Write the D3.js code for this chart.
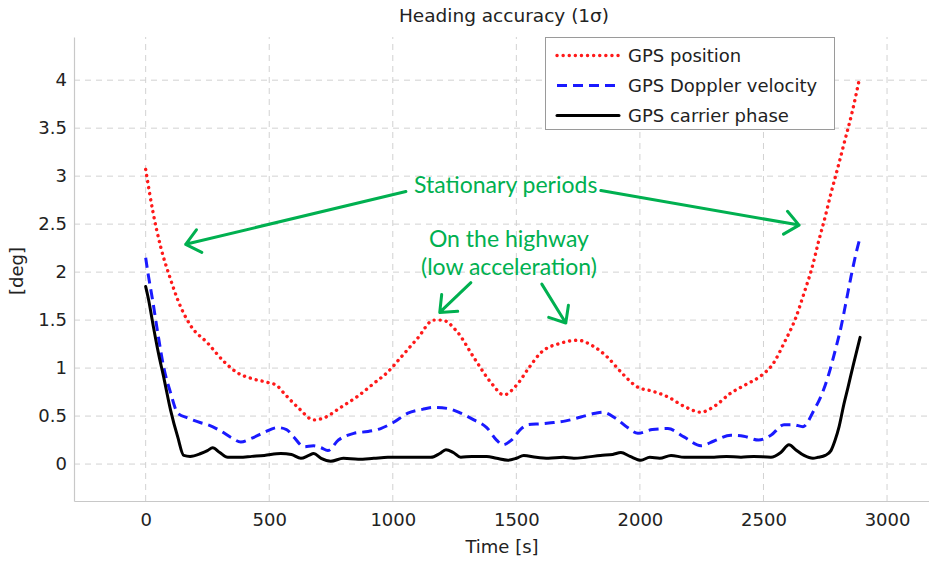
<!DOCTYPE html>
<html>
<head>
<meta charset="utf-8">
<script src="https://cdn.jsdelivr.net/npm/d3@7"></script>
<style>
  body { margin: 0; background: #fff; }
  svg { display: block; }
</style>
</head>
<body>
<svg id="svgId"></svg>
<script>
// time [s], heading sigma [deg]
var gpsPosition = [
  [0, 3.07], [30, 2.62], [61, 2.26], [100, 1.93], [130, 1.71], [180, 1.45], [251, 1.26],
  [320, 1.06], [372, 0.95], [430, 0.89], [494, 0.85], [530, 0.82], [559, 0.74], [620, 0.58],
  [680, 0.46], [720, 0.48], [789, 0.59], [860, 0.71], [923, 0.84], [980, 0.96], [1032, 1.11],
  [1100, 1.31], [1166, 1.50], [1200, 1.50], [1260, 1.38], [1328, 1.11], [1400, 0.84],
  [1449, 0.72], [1500, 0.82], [1550, 1.00], [1599, 1.16], [1680, 1.26], [1749, 1.29],
  [1810, 1.23], [1870, 1.11], [1930, 0.94], [1992, 0.80], [2050, 0.76], [2113, 0.70],
  [2180, 0.60], [2247, 0.54], [2300, 0.60], [2368, 0.74], [2430, 0.83], [2490, 0.92],
  [2540, 1.05], [2583, 1.26], [2630, 1.52], [2664, 1.78], [2700, 2.08], [2721, 2.30],
  [2750, 2.58], [2773, 2.82], [2800, 3.08], [2826, 3.34], [2860, 3.68], [2887, 4.0]
];
var gpsDoppler = [
  [0, 2.15], [10, 1.98], [28, 1.71], [50, 1.35], [73, 1.01], [100, 0.75], [130, 0.53],
  [170, 0.48], [223, 0.43], [251, 0.41], [300, 0.35], [350, 0.27], [385, 0.23], [430, 0.27],
  [480, 0.33], [534, 0.38], [570, 0.36], [600, 0.28], [640, 0.18], [680, 0.19], [710, 0.17],
  [737, 0.14], [780, 0.25], [842, 0.32], [900, 0.34], [951, 0.37], [1000, 0.43], [1061, 0.53],
  [1120, 0.57], [1166, 0.59], [1220, 0.58], [1275, 0.53], [1328, 0.46], [1380, 0.38],
  [1420, 0.25], [1445, 0.20], [1480, 0.25], [1520, 0.37], [1547, 0.41], [1600, 0.42],
  [1640, 0.43], [1700, 0.45], [1761, 0.49], [1820, 0.53], [1850, 0.54], [1900, 0.48],
  [1950, 0.38], [1992, 0.32], [2050, 0.36], [2113, 0.37], [2180, 0.28], [2247, 0.19],
  [2300, 0.24], [2368, 0.30], [2420, 0.29], [2480, 0.25], [2530, 0.30], [2583, 0.41],
  [2620, 0.41], [2660, 0.39], [2704, 0.56], [2735, 0.72], [2761, 0.91], [2790, 1.18],
  [2814, 1.43], [2835, 1.70], [2854, 1.95], [2875, 2.20], [2891, 2.36]
];
var gpsCarrier = [
  [0, 1.85], [12, 1.71], [30, 1.45], [49, 1.19], [75, 0.88], [101, 0.56], [130, 0.28],
  [154, 0.09], [180, 0.08], [223, 0.11], [250, 0.14], [271, 0.17], [300, 0.12], [332, 0.07],
  [380, 0.07], [430, 0.08], [480, 0.09], [547, 0.11], [590, 0.10], [628, 0.06], [660, 0.09],
  [680, 0.11], [710, 0.06], [749, 0.03], [800, 0.06], [860, 0.05], [923, 0.06], [980, 0.07],
  [1050, 0.07], [1100, 0.07], [1154, 0.07], [1190, 0.11], [1215, 0.15], [1245, 0.12],
  [1275, 0.07], [1320, 0.08], [1380, 0.08], [1420, 0.06], [1466, 0.04], [1500, 0.06],
  [1530, 0.09], [1580, 0.07], [1630, 0.06], [1690, 0.07], [1733, 0.06], [1780, 0.07],
  [1840, 0.09], [1890, 0.10], [1923, 0.12], [1960, 0.08], [2004, 0.04], [2040, 0.07],
  [2080, 0.06], [2126, 0.09], [2180, 0.07], [2240, 0.07], [2300, 0.07], [2350, 0.08],
  [2409, 0.07], [2460, 0.08], [2530, 0.07], [2570, 0.12], [2603, 0.20], [2630, 0.15],
  [2664, 0.09], [2700, 0.06], [2721, 0.07], [2750, 0.09], [2773, 0.14], [2790, 0.25],
  [2806, 0.39], [2825, 0.62], [2842, 0.80], [2865, 1.05], [2891, 1.32]
];

var xTicks = [0, 500, 1000, 1500, 2000, 2500, 3000];
var yTicks = [0, 0.5, 1, 1.5, 2, 2.5, 3, 3.5, 4];
var legendLabels = ["GPS position", "GPS Doppler velocity", "GPS carrier phase"];

// annotations, in data units [t, deg]
var noteTexts = [
  { text: "Stationary periods", at: [1457, 2.82] },
  { text: "On the highway", at: [1470, 2.26] },
  { text: "(low acceleration)", at: [1470, 1.97] }
];
var noteArrows = [
  [[1053, 2.84], [162, 2.29]],
  [[1842, 2.85], [2644, 2.49]],
  [[1316, 1.89], [1190, 1.58]],
  [[1603, 1.875], [1700, 1.47]]
];

var svgWidth = 929, svgHeight = 561;
var svg = d3.select("#svgId").attr("width", svgWidth).attr("height", svgHeight);
var font = "'DejaVu Sans', sans-serif";

var x = d3.scaleLinear().domain([-290, 3190]).range([74, 934]);
var y = d3.scaleLinear().domain([-0.385, 4.45]).range([501, 37]);

//网格线
var grid = svg.append("g").attr("stroke", "#d2d2d2").attr("stroke-width", 1)
  .attr("stroke-dasharray", "6,5");
grid.selectAll(".gx").data(xTicks).enter().append("line")
  .attr("x1", function (d) { return x(d) }).attr("x2", function (d) { return x(d) })
  .attr("y1", y.range()[0]).attr("y2", y.range()[1]);
grid.selectAll(".gy").data(yTicks).enter().append("line")
  .attr("x1", x.range()[0]).attr("x2", x.range()[1])
  .attr("y1", function (d) { return y(d) }).attr("y2", function (d) { return y(d) });

//坐标轴
var xAxis = svg.append("g").attr("transform", "translate(0," + y.range()[0] + ")")
  .call(d3.axisBottom(x).tickValues(xTicks).tickFormat(d3.format("~g")).tickSize(0).tickPadding(12));
var yAxis = svg.append("g").attr("transform", "translate(" + x.range()[0] + ",0)")
  .call(d3.axisLeft(y).tickValues(yTicks).tickFormat(d3.format("~g")).tickSize(0).tickPadding(7));
[xAxis, yAxis].forEach(function (a) {
  a.select(".domain").attr("stroke", "#c8c8c8").attr("stroke-width", 1.2);
  a.selectAll("text").attr("font-family", font).attr("font-size", 18).attr("fill", "#222");
});
xAxis.selectAll("text").attr("dy", "0.71em");

svg.append("text").attr("x", 504).attr("y", 22).attr("text-anchor", "middle")
  .attr("font-family", font).attr("font-size", 18.5).attr("fill", "#222")
  .text("Heading accuracy (1σ)");
svg.append("text").attr("x", 502).attr("y", 553).attr("text-anchor", "middle")
  .attr("font-family", font).attr("font-size", 18).attr("fill", "#222")
  .text("Time [s]");
svg.append("text").attr("transform", "translate(23,271) rotate(-90)").attr("text-anchor", "middle")
  .attr("font-family", font).attr("font-size", 18).attr("fill", "#222")
  .text("[deg]");

//曲线
var line = d3.line()
  .x(function (d) { return x(d[0]) })
  .y(function (d) { return y(d[1]) })
  .curve(d3.curveMonotoneX);

var styles = [
  { data: gpsPosition, color: "#ff1a1a", width: 3.4, dash: "0.1,6", cap: "round" },
  { data: gpsDoppler, color: "#1a1aff", width: 3, dash: "10,6", cap: "butt" },
  { data: gpsCarrier, color: "#000", width: 3, dash: null, cap: "round" }
];
styles.forEach(function (s) {
  svg.append("path").datum(s.data)
    .attr("fill", "none")
    .attr("stroke", s.color)
    .attr("stroke-width", s.width)
    .attr("stroke-dasharray", s.dash)
    .attr("stroke-linecap", s.cap)
    .attr("stroke-linejoin", "round")
    .attr("d", line);
});

//图例
var lg = svg.append("g");
lg.append("rect").attr("x", 545.5).attr("y", 37.5).attr("width", 289).attr("height", 92)
  .attr("fill", "#fff").attr("stroke", "#9a9a9a").attr("stroke-width", 1);
legendLabels.forEach(function (lab, i) {
  var ly = 55.5 + i * 30, s = styles[i];
  lg.append("line").attr("x1", 557).attr("x2", 619).attr("y1", ly).attr("y2", ly)
    .attr("stroke", s.color).attr("stroke-width", s.width)
    .attr("stroke-dasharray", s.dash).attr("stroke-linecap", s.cap);
  lg.append("text").attr("x", 628).attr("y", ly + 6.5)
    .attr("font-family", font).attr("font-size", 18).attr("fill", "#222").text(lab);
});

//注释
var green = "#00b050";
noteTexts.forEach(function (n) {
  svg.append("text").attr("x", x(n.at[0])).attr("y", y(n.at[1])).attr("text-anchor", "middle")
    .attr("font-family", "Lato, 'Open Sans', sans-serif").attr("font-size", 23)
    .attr("fill", green).text(n.text);
});
noteArrows.forEach(function (a) {
  var x0 = x(a[0][0]), y0 = y(a[0][1]), x1 = x(a[1][0]), y1 = y(a[1][1]);
  var ang = Math.atan2(y1 - y0, x1 - x0), len = 18, spread = 0.7;
  var p = "M" + x0 + "," + y0 + "L" + x1 + "," + y1 +
    "M" + (x1 - len * Math.cos(ang - spread)) + "," + (y1 - len * Math.sin(ang - spread)) +
    "L" + x1 + "," + y1 +
    "L" + (x1 - len * Math.cos(ang + spread)) + "," + (y1 - len * Math.sin(ang + spread));
  svg.append("path").attr("d", p).attr("fill", "none").attr("stroke", green)
    .attr("stroke-width", 3).attr("stroke-linecap", "round").attr("stroke-linejoin", "round");
});
</script>
</body>
</html>
